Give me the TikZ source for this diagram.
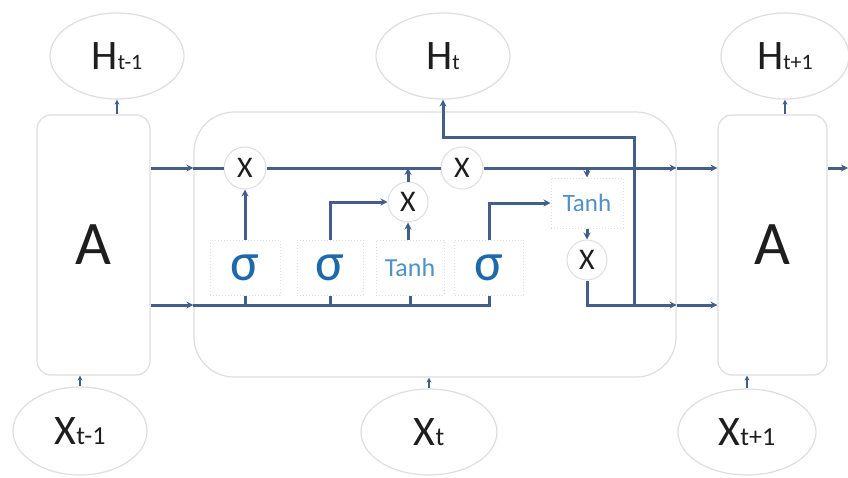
\documentclass[tikz,border=0pt]{standalone}
\usepackage{fontspec}
\setmainfont{Carlito}
\usetikzlibrary{shapes.geometric,arrows.meta}
\definecolor{lnc}{RGB}{68,94,140}
\definecolor{elc}{RGB}{222,222,222}
\definecolor{gtc}{RGB}{232,220,210}
\definecolor{txc}{RGB}{30,30,30}
\definecolor{sgc}{RGB}{30,105,170}
\definecolor{thc}{RGB}{80,145,200}
\newcommand{\bigHX}[1]{{\fontsize{42}{42}\selectfont #1}}
\newcommand{\smallHs}[1]{{\fontsize{22}{22}\selectfont #1}}
\newcommand{\smallXs}[1]{{\fontsize{26}{26}\selectfont #1}}
\begin{document}
\begin{tikzpicture}[x=1pt,y=-1pt,
  ln/.style={draw=lnc, line width=3pt},
  arr/.style={ln, -{Stealth[length=7pt,width=7pt]}},
  tarr/.style={draw=lnc, line width=1.8pt, -{Stealth[length=5pt,width=5pt]}},
  ell/.style={ellipse, draw=elc, line width=1.2pt, inner sep=0pt, text=txc},
  abox/.style={rectangle, rounded corners=14pt, draw=elc, line width=1.2pt, minimum height=260pt, inner sep=0pt, text=txc, font=\fontsize{62}{62}\selectfont},
  cellbox/.style={rectangle, rounded corners=40pt, draw=elc, line width=1.2pt, minimum width=482pt, minimum height=265pt, inner sep=0pt},
  gate/.style={rectangle, draw=gtc, dotted, line width=1pt, fill=white, minimum height=55pt, inner sep=0pt},
  sig/.style={gate, text=sgc, font=\fontsize{54}{54}\selectfont},
  tnh/.style={gate, text=thc, font=\fontsize{26}{26}\selectfont},
  mul/.style={circle, draw=elc, line width=1pt, fill=white, minimum size=42pt, inner sep=0pt, text=txc, font=\fontsize{30}{30}\selectfont}
]
\fill[white] (0,0) rectangle (848,477);
\useasboundingbox (0,0) rectangle (848,477);

\node[cellbox] (cell) at (435,244.5) {};
\node[abox, minimum width=113pt] (A1) at (93.5,245) {A};
\node[abox, minimum width=109pt] (A2) at (772.5,245) {A};

\node[ell, minimum width=134pt, minimum height=86pt] (Hm1) at (117,56) {\bigHX{H}\smallHs{t-1}};
\node[ell, minimum width=134pt, minimum height=86pt] (Ht) at (443,56) {\bigHX{H}\smallHs{t}};
\node[ell, minimum width=128pt, minimum height=86pt] (Hp1) at (785,56) {\bigHX{H}\smallHs{t+1}};
\node[ell, minimum width=134pt, minimum height=88pt] (Xm1) at (80,431) {\bigHX{X}\smallXs{t-1}};
\node[ell, minimum width=136pt, minimum height=86pt] (Xt) at (429,432) {\bigHX{X}\smallXs{t}};
\node[ell, minimum width=138pt, minimum height=86pt] (Xp1) at (747,432) {\bigHX{X}\smallXs{t+1}};

\node[mul] (m1) at (245,168) {X};
\node[mul] (m2) at (462,168) {X};
\node[mul, minimum size=40pt] (m3) at (408,202) {X};
\node[mul, minimum size=40pt] (m4) at (587,260) {X};

\node[sig, minimum width=70pt] (s1) at (245,267.5) {σ};
\node[sig, minimum width=66pt] (s2) at (330,267.5) {σ};
\node[tnh, minimum width=68pt] (th1) at (410,267.5) {Tanh};
\node[sig, minimum width=69pt] (s3) at (489,267.5) {σ};
\node[tnh, minimum width=72pt, minimum height=50pt, font=\fontsize{25}{25}\selectfont] (th2) at (587,203) {Tanh};

\coordinate (low) at (400,305);
\coordinate (hx) at (634,137);
\coordinate (rEnd) at (848,168);

% cell state line
\draw[arr] (m1 -| A1.east) -- (m1 -| cell.west);
\draw[ln] (m1 -| cell.west) -- (m1.west);
\draw[ln] (m1.east) -- (m2.west);
\draw[arr] (m2.east) -- (m2 -| cell.east);
\draw[arr] (m2 -| cell.east) -- (m2 -| A2.west);
\draw[arr] (m2 -| A2.east) -- (rEnd);

% input line
\draw[arr] (low -| A1.east) -- (low -| cell.west);
\draw[ln] (low -| cell.west) -- (low -| s3.south) -- (s3.south);
\draw[ln] (low -| s1.south) -- (s1.south);
\draw[ln] (low -| s2.south) -- (s2.south);
\draw[ln] (low -| th1.south) -- (th1.south);

% gates
\draw[arr] (m1.south |- s1.north) -- (m1.south);
\draw[arr] (s2.north) |- (m3.west);
\draw[arr] (m3.south |- th1.north) -- (m3.south);
\draw[arr] (m3.north) -- (m3.north |- m1);
\draw[arr] (s3.north) |- (th2.west);
\draw[arr] (th2.north |- m2) -- (th2.north);
\draw[arr] (th2.south) -- (m4.north);
\draw[arr] (m4.south) |- (low -| cell.east);
\draw[arr] (low -| cell.east) -- (low -| A2.west);

% hidden output
\draw[arr] (hx |- low) -- (hx) -| (Ht.south);

% ticks
\draw[tarr] (Hm1.south |- A1.north) -- (Hm1.south);
\draw[tarr] (Hp1.south |- A2.north) -- (Hp1.south);
\draw[tarr] (Xm1.north) -- (Xm1.north |- A1.south);
\draw[tarr] (Xt.north) -- (Xt.north |- cell.south);
\draw[tarr] (Xp1.north) -- (Xp1.north |- A2.south);
\end{tikzpicture}
\end{document}
